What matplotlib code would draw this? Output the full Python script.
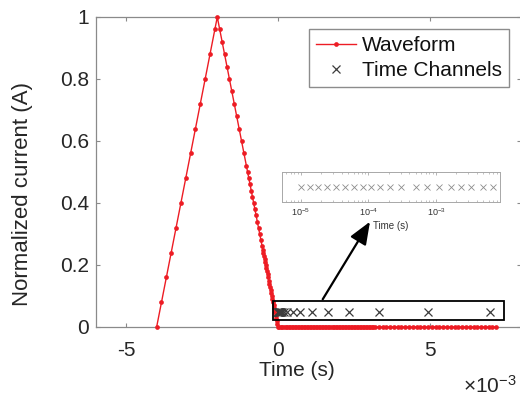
import numpy as np
import matplotlib
matplotlib.use("Agg")
import matplotlib.pyplot as plt
from matplotlib.patches import Rectangle, FancyArrowPatch
from matplotlib.ticker import FuncFormatter, LogLocator, NullFormatter, NullLocator

plt.rcParams['font.family'] = ['Liberation Sans', 'DejaVu Sans']
plt.rcParams['mathtext.fontset'] = 'custom'
plt.rcParams['mathtext.rm'] = 'Liberation Sans'
plt.rcParams['mathtext.it'] = 'Liberation Sans:italic'
plt.rcParams['mathtext.bf'] = 'Liberation Sans:bold'

# ---------------- data (time in ms, normalized current) ----------------
rise_ms = [-4.00, -3.84, -3.68, -3.52, -3.36, -3.20, -3.04, -2.88, -2.72,
           -2.56, -2.40, -2.24, -2.08, -2.00]
rise_amp = [0.00, 0.08, 0.16, 0.24, 0.32, 0.40, 0.48, 0.56, 0.64,
            0.72, 0.80, 0.88, 0.96, 1.00]

fall_ms = [-1.92, -1.84, -1.76, -1.68, -1.60, -1.52, -1.44, -1.36, -1.28,
           -1.20, -1.12, -1.04, -1.00, -0.96, -0.92, -0.88, -0.84, -0.80,
           -0.76, -0.72, -0.68, -0.64, -0.60, -0.56, -0.52, -0.50, -0.48,
           -0.46, -0.44, -0.42, -0.40, -0.38, -0.36, -0.34, -0.32, -0.30,
           -0.28, -0.26, -0.24, -0.22, -0.20, -0.18, -0.16, -0.14, -0.12,
           -0.10, -0.08, -0.06, -0.04, -0.02, 0.00]
fall_amp = [0.96, 0.92, 0.88, 0.84, 0.80, 0.76, 0.72, 0.68, 0.64,
            0.60, 0.56, 0.52, 0.50, 0.48, 0.46, 0.44, 0.42, 0.40,
            0.38, 0.36, 0.34, 0.32, 0.30, 0.28, 0.26, 0.25, 0.24,
            0.23, 0.22, 0.21, 0.20, 0.19, 0.18, 0.17, 0.16, 0.15,
            0.14, 0.13, 0.12, 0.11, 0.10, 0.09, 0.08, 0.07, 0.06,
            0.05, 0.04, 0.03, 0.02, 0.01, 0.00]

off_ms = [0.05, 0.10, 0.15, 0.20, 0.25, 0.30, 0.35, 0.40, 0.45, 0.50,
          0.55, 0.60, 0.65, 0.70, 0.75, 0.80, 0.85, 0.90, 0.95, 1.00,
          1.05, 1.10, 1.15, 1.20, 1.25, 1.30, 1.35, 1.40, 1.45, 1.50,
          1.55, 1.60, 1.65, 1.70, 1.75, 1.80, 1.85, 1.90, 1.95, 2.00,
          2.05, 2.10, 2.15, 2.20, 2.25, 2.30, 2.35, 2.40, 2.45, 2.50,
          2.55, 2.60, 2.65, 2.70, 2.75, 2.80, 2.85, 2.90, 2.95, 3.00,
          3.05, 3.10, 3.15,
          3.200, 3.325, 3.450, 3.575, 3.700, 3.825, 3.950, 4.075, 4.200,
          4.325, 4.450, 4.575, 4.700, 4.825, 4.950, 5.075, 5.200, 5.325,
          5.450, 5.575, 5.700, 5.825, 5.950, 6.075, 6.200, 6.325, 6.450,
          6.575, 6.700, 6.825, 6.950, 7.075, 7.200]
off_amp = [0.0] * len(off_ms)

# time channels (s)
channels_s = [1.0e-5, 1.35e-5, 1.8e-5, 2.45e-5, 3.3e-5, 4.5e-5, 6.1e-5,
              8.2e-5, 1.1e-4, 1.5e-4, 2.1e-4, 3.0e-4, 5.1e-4, 7.4e-4,
              1.12e-3, 1.65e-3, 2.35e-3, 3.32e-3, 4.95e-3, 7.0e-3]
channel_level = 0.05

xticks_ms = [-5, 0, 5]
yticks = [0, 0.2, 0.4, 0.6, 0.8, 1]

wave_t = np.array(rise_ms + fall_ms + off_ms) * 1e-3
wave_a = np.array(rise_amp + fall_amp + off_amp)
ch_t = np.array(channels_s)
ch_y = np.full(len(ch_t), channel_level)

# ---------------- figure ----------------
W, H = 520, 398
def fx(px):
    return px / W
def fy(py):
    return 1 - py / H

fig = plt.figure(figsize=(W / 100, H / 100), dpi=100)
ax = fig.add_axes([fx(96), fy(327), 424.5 / W, 310 / H])

red = '#ed1c24'
axcol = '#8a8a8a'
txtcol = '#262626'

ax.plot(wave_t, wave_a, '-', color=red, lw=1.0, marker='o', ms=3.4, mew=0,
        label='Waveform', clip_on=False, zorder=4)
ax.plot(ch_t, ch_y, 'x', color='#3c3c3c', ms=5.5, mew=0.9,
        label='Time Channels', zorder=5)

ax.set_xlim(-6e-3, 8e-3)
ax.set_ylim(0, 1)
ax.set_xticks(np.array(xticks_ms) * 1e-3)
ax.xaxis.set_major_formatter(FuncFormatter(lambda v, p: '%g' % round(v * 1e3, 6)))
ax.set_yticks(yticks)
ax.yaxis.set_major_formatter(FuncFormatter(lambda v, p: '%g' % v))

for s in ax.spines.values():
    s.set_color(axcol)
    s.set_linewidth(0.9)
ax.tick_params(direction='in', length=2.8, width=0.8, color=axcol,
               top=True, right=True, labelsize=15, labelcolor=txtcol)
ax.tick_params(axis='x', pad=10)
ax.tick_params(axis='y', pad=5)

fig.text(fx(297), fy(371), 'Time (s)', fontsize=15, color=txtcol,
         ha='center', va='center')
fig.text(fx(23), fy(193.5), 'Normalized current (A)', fontsize=16,
         color=txtcol, rotation=90, ha='center', va='center')

fig.text(fx(463), fy(393), '×10$^{-3}$', fontsize=15, color=txtcol,
         ha='left', va='baseline')

leg = ax.legend(loc='upper right', bbox_to_anchor=(fx(509), fy(29.3)),
                bbox_transform=fig.transFigure, borderaxespad=0,
                fancybox=False, edgecolor='#8c8c8c', framealpha=1,
                fontsize=15, handlelength=1.9, handletextpad=0.3,
                borderpad=0.33, labelspacing=0.3, numpoints=1)
leg.get_frame().set_linewidth(1.0)
for t in leg.get_texts():
    t.set_color('#111111')

# highlight box around the time channels
ax.add_patch(Rectangle((-0.165e-3, 0.0226), 7.611e-3, 0.0603, fill=False,
                       ec='k', lw=1.3, clip_on=False, zorder=6))

# ---------------- inset (log time axis) ----------------
ins = fig.add_axes([fx(281.7), fy(202.3), 218.3 / W, 30 / H])
ins.set_xscale('log')
ins.plot(ch_t, ch_y, 'x', color='#8c8c8c', ms=4.8, mew=0.6)
ins.set_xlim(5.18e-6, 8.87e-3)
ins.set_ylim(0, 0.1)
ins.yaxis.set_major_locator(NullLocator())
ins.xaxis.set_major_locator(LogLocator(base=10, numticks=10))
ins.xaxis.set_minor_locator(LogLocator(base=10, subs=np.arange(2, 10), numticks=10))
ins.xaxis.set_minor_formatter(NullFormatter())
for s in ins.spines.values():
    s.set_color('#a8a8a8')
    s.set_linewidth(0.7)
ins.tick_params(which='both', direction='in', top=True, color='#a8a8a8',
                labelsize=6.5, labelcolor='#333333', pad=3)
ins.tick_params(which='major', length=2.2, width=0.6)
ins.tick_params(which='minor', length=1.2, width=0.5)
ins.set_xlabel('Time (s)', fontsize=7, color='#333333', labelpad=2)

# arrow from box to inset
fig.patches.append(FancyArrowPatch(
    (fx(322.7), fy(299.3)), (fx(370), fy(221.7)), transform=fig.transFigure,
    arrowstyle='-|>,head_length=0.55,head_width=0.22', mutation_scale=25,
    color='k', lw=1.6, shrinkA=0, shrinkB=0))

fig.savefig('out.png', dpi=100)
